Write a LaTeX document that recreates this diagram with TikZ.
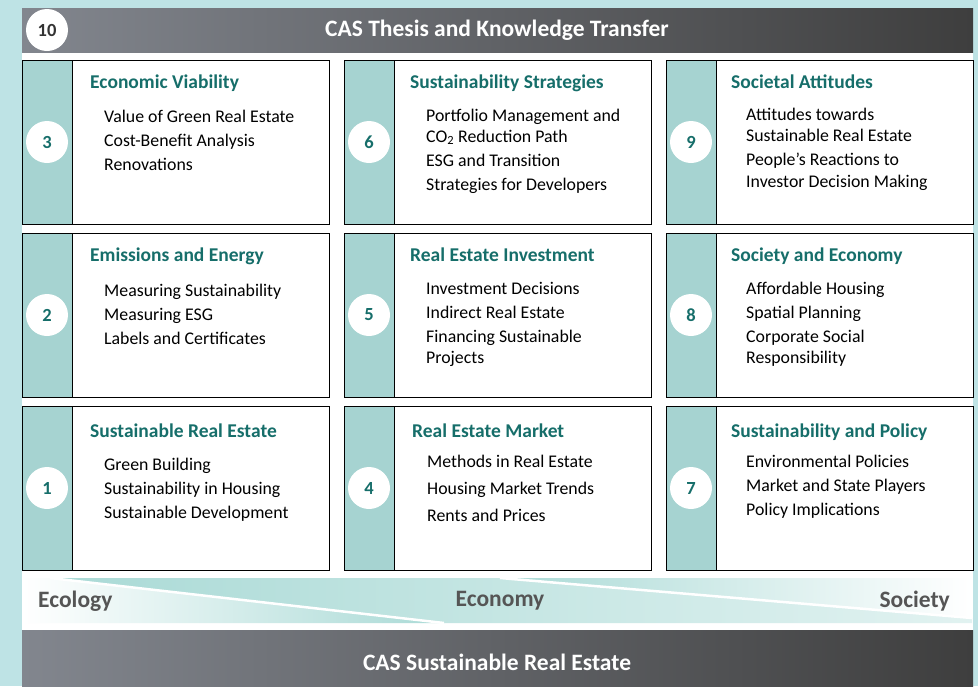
\documentclass[tikz,border=0pt]{standalone}
\usepackage{fontspec}
\setmainfont{Carlito}
\usetikzlibrary{shapes.geometric}
\definecolor{bgteal}{RGB}{190,227,229}
\definecolor{stripteal}{RGB}{166,211,209}
\definecolor{titleteal}{RGB}{22,110,106}
\definecolor{bandteal}{RGB}{170,218,214}
\definecolor{labgray}{RGB}{85,85,85}
\definecolor{barleft}{RGB}{130,134,142}
\definecolor{barright}{RGB}{62,62,62}
\tikzset{
  boxnode/.style={draw=black, line width=1.2pt, fill=white, minimum width=307pt, minimum height=164pt, inner sep=0pt, anchor=north west},
  stripnode/.style={draw=black, line width=1.2pt, fill=stripteal, minimum width=50pt, minimum height=164pt, inner sep=0pt, anchor=north west},
  numcirc/.style={circle, fill=white, minimum size=42pt, inner sep=0pt, text=titleteal, font=\fontsize{18.5}{20}\selectfont\bfseries},
  ttl/.style={anchor=base west, inner sep=0pt, text=titleteal, font=\fontsize{19.5}{22}\selectfont\bfseries},
  itm/.style={anchor=base west, inner sep=0pt, text=black, font=\fontsize{17.8}{20}\selectfont},
  bartext/.style={text=white, font=\fontsize{23.5}{26}\selectfont\bfseries},
  bandlab/.style={text=labgray, font=\fontsize{23.5}{26}\selectfont\bfseries, inner sep=0pt},
}
\begin{document}
\begin{tikzpicture}[x=1pt,y=-1pt]
\useasboundingbox (0,0) rectangle (978,686);
\fill[bgteal] (0,0) rectangle (978,686);
% white panel
\fill[white] (22,8) rectangle (973,686);
% header bar
\shade[left color=barleft, right color=barright] (22,8) rectangle (973,52);
\node[bartext] (header) at (497,30) {CAS Thesis and Knowledge Transfer};
\node[numcirc, text=black!80] (c10) at (47,30) {10};
% band
\shade[left color=white, right color=bandteal] (22,578) -- (50,578) -- (444,623) -- (22,623) -- cycle;
\shade[left color=bandteal, right color=bandteal!35] (50,578) -- (500,578) -- (972,618) -- (972,623) -- (444,623) -- cycle;
\shade[left color=bandteal, right color=white] (500,578) -- (972,578) -- (972,618) -- cycle;
\draw[white, line width=2.5pt] (50,578) -- (444,623);
\draw[white, line width=2.5pt] (500,578) -- (972,618);
\node[bandlab, anchor=west] (eco) at (38,601) {Ecology};
\node[bandlab] (econ) at (500,601) {Economy};
\node[bandlab, anchor=east] (soc) at (950,601) {Society};
% bottom bar
\shade[left color=barleft, right color=barright] (22,630) rectangle (973,686);
\node[bartext] (footer) at (497,662) {CAS Sustainable Real Estate};
% boxes
\foreach \col/\cx in {0/22,1/344,2/666}{
  \foreach \row/\ry in {0/60,1/233,2/406}{
    \node[boxnode] (box\col\row) at (\cx,\ry) {};
    \node[stripnode] (strip\col\row) at (\cx,\ry) {};
  }
}
% numbers
\node[numcirc] (n3) at (47,142) {3};
\node[numcirc] (n2) at (47,315) {2};
\node[numcirc] (n1) at (47,488) {1};
\node[numcirc] (n6) at (369,142) {6};
\node[numcirc] (n5) at (369,315) {5};
\node[numcirc] (n4) at (369,488) {4};
\node[numcirc] (n9) at (691,142) {9};
\node[numcirc] (n8) at (691,315) {8};
\node[numcirc] (n7) at (691,488) {7};
% column 1
\node[ttl] (t3) at (90,88) {Economic Viability};
\node[itm] (i3a) at (104,122) {Value of Green Real Estate};
\node[itm] (i3b) at (104,146) {Cost-Benefit Analysis};
\node[itm] (i3c) at (104,170) {Renovations};
\node[ttl] (t2) at (90,261) {Emissions and Energy};
\node[itm] (i2a) at (104,296) {Measuring Sustainability};
\node[itm] (i2b) at (104,320) {Measuring ESG};
\node[itm] (i2c) at (104,344) {Labels and Certificates};
\node[ttl] (t1) at (90,437) {Sustainable Real Estate};
\node[itm] (i1a) at (104,470) {Green Building};
\node[itm] (i1b) at (104,494) {Sustainability in Housing};
\node[itm] (i1c) at (104,518) {Sustainable Development};
% column 2
\node[ttl] (t6) at (410,88) {Sustainability Strategies};
\node[itm] (i6a) at (426,121) {Portfolio Management and};
\node[itm] (i6b) at (426,142) {CO\textsubscript{2} Reduction Path};
\node[itm] (i6c) at (426,166) {ESG and Transition};
\node[itm] (i6d) at (426,190) {Strategies for Developers};
\node[ttl] (t5) at (410,261) {Real Estate Investment};
\node[itm] (i5a) at (426,294) {Investment Decisions};
\node[itm] (i5b) at (426,318) {Indirect Real Estate};
\node[itm] (i5c) at (426,342) {Financing Sustainable};
\node[itm] (i5d) at (426,363) {Projects};
\node[ttl] (t4) at (412,437) {Real Estate Market};
\node[itm] (i4a) at (427,467) {Methods in Real Estate};
\node[itm] (i4b) at (427,494) {Housing Market Trends};
\node[itm] (i4c) at (427,521) {Rents and Prices};
% column 3
\node[ttl] (t9) at (731,88) {Societal Attitudes};
\node[itm] (i9a) at (746,120) {Attitudes towards};
\node[itm] (i9b) at (746,141) {Sustainable Real Estate};
\node[itm] (i9c) at (746,165) {People’s Reactions to};
\node[itm] (i9d) at (746,187) {Investor Decision Making};
\node[ttl] (t8) at (731,261) {Society and Economy};
\node[itm] (i8a) at (746,294) {Affordable Housing};
\node[itm] (i8b) at (746,318) {Spatial Planning};
\node[itm] (i8c) at (746,342) {Corporate Social};
\node[itm] (i8d) at (746,363) {Responsibility};
\node[ttl] (t7) at (731,437) {Sustainability and Policy};
\node[itm] (i7a) at (746,467) {Environmental Policies};
\node[itm] (i7b) at (746,491) {Market and State Players};
\node[itm] (i7c) at (746,515) {Policy Implications};
\end{tikzpicture}
\end{document}
